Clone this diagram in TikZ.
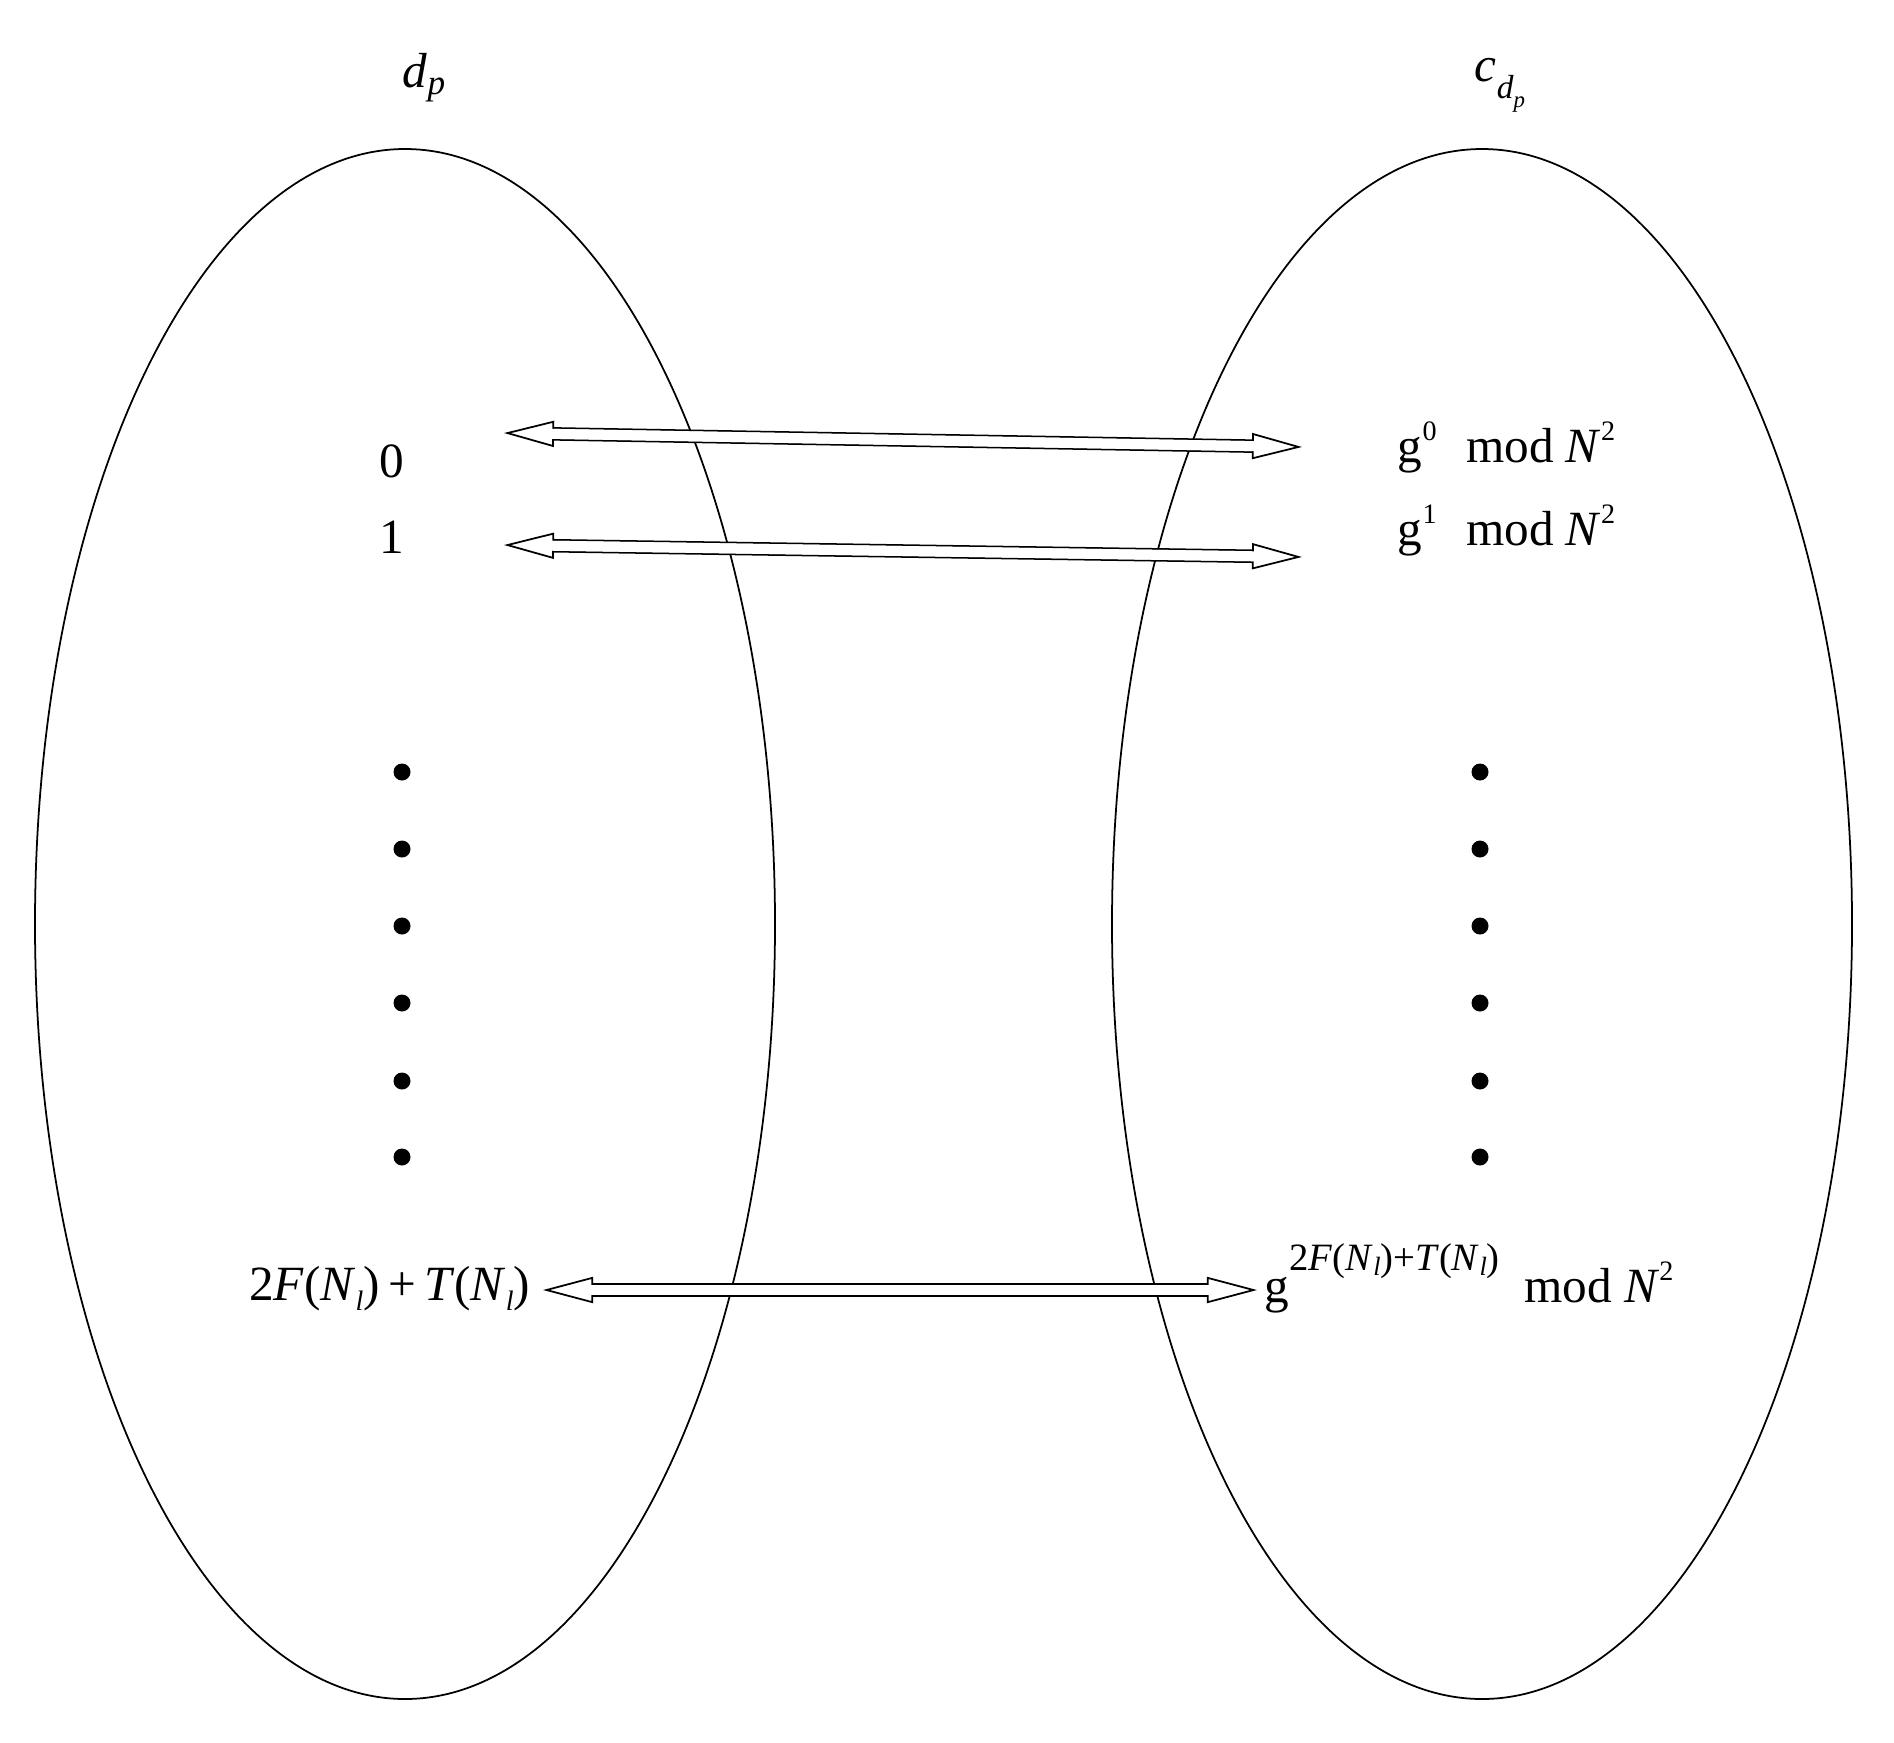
\documentclass[tikz,border=0pt]{standalone}
\usepackage{fontspec}
\setmainfont{Liberation Serif}
\usetikzlibrary{arrows.meta}
\tikzset{>={Triangle[open,length=5mm,width=2.6mm,line width=0.5pt]}}
\tikzset{twoway/.style={<->,double,double distance=1mm,line width=0.5pt},
  gap/.style={white,line width=1mm,shorten <=4.4mm,shorten >=4.4mm}}
\newcommand{\raiseup}[1]{\raisebox{6pt}{\fontsize{8}{9}\selectfont #1}}
\newcommand{\lowerdn}[1]{\raisebox{-3pt}{\fontsize{8}{9}\selectfont #1}}

\begin{document}
\begin{tikzpicture}[x=0.01cm,y=-0.01cm,line width=0.5pt,inner sep=0pt,
  font=\fontsize{14}{17}\selectfont]
\useasboundingbox (0,0) rectangle (1894,1742);

% the two sets
\draw (405,924) ellipse (370 and 775);
\draw (1482,924) ellipse (370 and 775);
\node[anchor=base west] (dp) at (402,87)
  {\textit{d}\raisebox{-2pt}{\fontsize{10}{12}\selectfont\textit{p}}};
\node[anchor=base west] (cdp) at (1474,81)
  {\textit{c}\raisebox{-5pt}{\fontsize{9.5}{10}\selectfont\textit{d}\raisebox{-2.5pt}{\fontsize{6.5}{7}\selectfont\textit{p}}}};

% left entries
\node[anchor=base] (zero) at (392,477) {0};
\node[anchor=base] (one) at (392,553) {1};
\node[anchor=base east] (last) at (531,1300)
  {2\textit{F}(\textit{N}\lowerdn{\textit{l}})\,+\,\textit{T}(\textit{N}\lowerdn{\textit{l}})};

% right entries
\node[anchor=base west] (gzero) at (1397,462)
  {g\raiseup{0}\hspace{0.6em}mod\hspace{0.25em}\textit{N}\raiseup{2}};
\node[anchor=base west] (gone) at (1397,545)
  {g\raiseup{1}\hspace{0.6em}mod\hspace{0.25em}\textit{N}\raiseup{2}};
\node[anchor=base west] (glast) at (1264,1302)
  {g\raisebox{9pt}{\fontsize{11}{12}\selectfont 2\textit{F}(\textit{N}\raisebox{-1.5pt}{\fontsize{7.5}{8}\selectfont\textit{l}})+\textit{T}(\textit{N}\raisebox{-1.5pt}{\fontsize{7.5}{8}\selectfont\textit{l}})}\hspace{0.5em}mod\hspace{0.25em}\textit{N}\raiseup{2}};

% dots
\fill (402,772) circle (8.5) (402,849) circle (8.5) (402,926) circle (8.5)
  (402,1003) circle (8.5) (402,1081) circle (8.5) (402,1157) circle (8.5);
\fill (1480,772) circle (8.5) (1480,849) circle (8.5) (1480,926) circle (8.5)
  (1480,1003) circle (8.5) (1480,1081) circle (8.5) (1480,1157) circle (8.5);

% correspondences
\coordinate (L0) at (504,433);
\coordinate (R0) at (1302,447);
\coordinate (L1) at (504,545);
\coordinate (R1) at (1302,557);
\coordinate (L2) at (543,1290);
\coordinate (R2) at (1257,1290);
\draw[twoway] (L0) -- (R0);
\draw[twoway] (L1) -- (R1);
\draw[twoway] (L2) -- (R2);
\draw[gap] (L0) -- (R0);
\draw[gap] (L1) -- (R1);
\draw[gap] (L2) -- (R2);

\end{tikzpicture}
\end{document}
